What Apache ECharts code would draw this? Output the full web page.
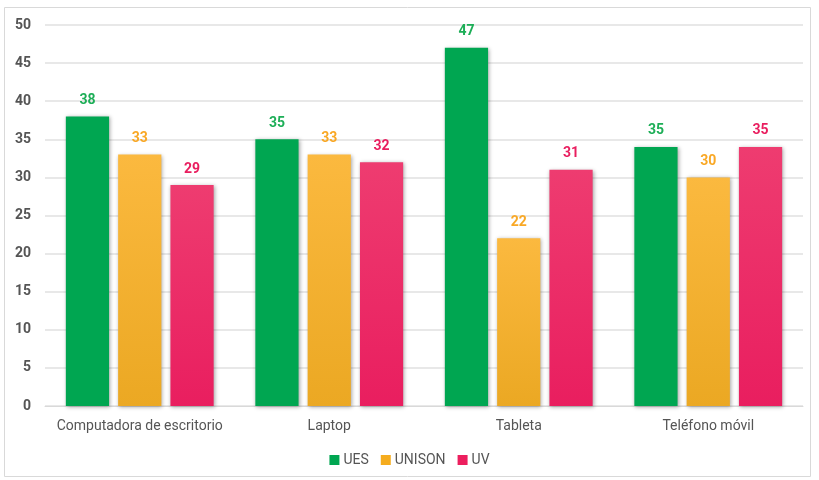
<!DOCTYPE html>
<html><head><meta charset="utf-8">
<script src="https://cdn.jsdelivr.net/npm/echarts@6/dist/echarts.min.js"></script>
<style>html,body{margin:0;padding:0;background:#fff}#c{width:819px;height:480px}</style>
</head><body><div id="c"></div>
<script>
const categories = ['Computadora de escritorio', 'Laptop', 'Tableta', 'Teléfono móvil'];
const seriesNames = ['UES', 'UNISON', 'UV'];
const uesValues = [38, 35, 47, 34];
const unisonValues = [33, 33, 22, 30];
const uvValues = [29, 32, 31, 34];
const uesLabels = ['38', '35', '47', '35'];
const unisonLabels = ['33', '33', '22', '30'];
const uvLabels = ['29', '32', '31', '35'];
const yTicks = [0, 5, 10, 15, 20, 25, 30, 35, 40, 45, 50];

const chart = echarts.init(document.getElementById('c'));
function grad(top, bottom) {
  return new echarts.graphic.LinearGradient(0, 0, 0, 1, [{offset: 0, color: top}, {offset: 1, color: bottom}]);
}
function mk(name, data, labels, top, bottom, labelColor) {
  return {
    name: name, type: 'bar', data: data,
    barGap: '21%', barCategoryGap: '22%',
    itemStyle: { color: grad(top, bottom), shadowColor: 'rgba(0,0,0,0.35)', shadowBlur: 4, shadowOffsetX: 1, shadowOffsetY: 1 },
    label: { show: true, position: 'top', distance: 9, color: labelColor, fontFamily: 'Roboto', fontWeight: 'bold', fontSize: 14,
      formatter: p => labels[p.dataIndex] }
  };
}
chart.setOption({
  animation: false,
  textStyle: { fontFamily: 'Roboto' },
  graphic: [{ type: 'rect', shape: { x: 4.5, y: 7.5, width: 806, height: 469 }, style: { fill: 'none', stroke: '#d9d9d9', lineWidth: 1 }, silent: true }],
  grid: { left: 45, right: 16, top: 25, bottom: 74 },
  legend: {
    data: seriesNames.map((n, i) => ({ name: n, itemStyle: { color: ['#00A651', '#F5AC1E', '#EC1F5E'][i] } })),
    bottom: 8, left: 'center', icon: 'rect', itemWidth: 10, itemHeight: 10, itemGap: 12,
    textStyle: { color: '#555', fontSize: 14, fontFamily: 'Roboto', padding: [0, 0, 0, -1] }
  },
  xAxis: {
    type: 'category', data: categories,
    axisLine: { lineStyle: { color: '#d9d9d9' } }, axisTick: { show: false },
    axisLabel: { interval: 0, color: '#555', fontSize: 14, margin: 13, fontFamily: 'Roboto' }
  },
  yAxis: {
    type: 'value', min: yTicks[0], max: yTicks[yTicks.length - 1], interval: 5,
    axisLine: { show: false }, axisTick: { show: false },
    splitLine: { lineStyle: { color: '#e0e0e0', width: 1.5 } },
    axisLabel: { color: '#555', fontSize: 14, fontWeight: 'bold', margin: 14, fontFamily: 'Roboto' }
  },
  series: [
    mk('UES', uesValues, uesLabels, '#00A651', '#00A651', '#1DAE57'),
    mk('UNISON', unisonValues, unisonLabels, '#FBB93F', '#EBA823', '#F9A825'),
    mk('UV', uvValues, uvLabels, '#EE3C70', '#E91E5F', '#E91E5F')
  ]
});
</script></body></html>
